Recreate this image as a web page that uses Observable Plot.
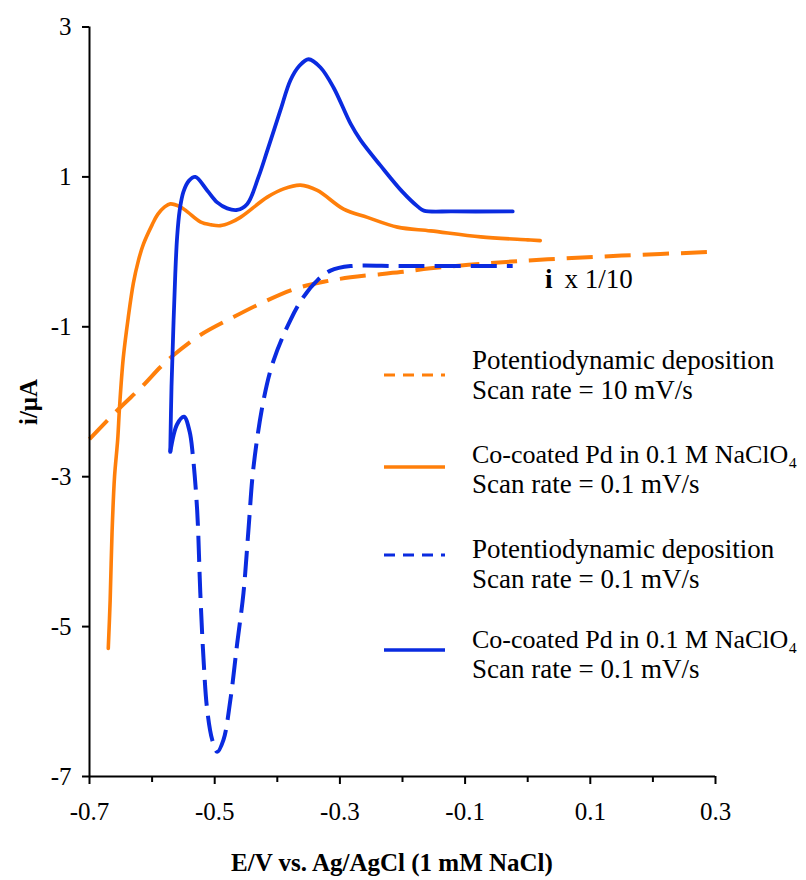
<!DOCTYPE html>
<html><head><meta charset="utf-8">
<script src="https://cdn.jsdelivr.net/npm/d3@7"></script>
<script src="https://cdn.jsdelivr.net/npm/@observablehq/plot@0.6"></script>
<style>
body{margin:0;background:#fff}
#wrap{position:relative;width:806px;height:880px;font-family:"Liberation Serif",serif}
#wrap svg{display:block}
#over{position:absolute;left:0;top:0}
</style></head><body><div id="wrap"></div>
<script>
// ---- data (E in V, i in µA) ----
const orangeDashE = [-0.7,-0.655,-0.614,-0.587,-0.566,-0.523,-0.47,-0.427,-0.374,-0.326,-0.283,-0.203,-0.155,-0.06,0.032,0.15,0.297];
const orangeDashI = [-2.5,-2.11,-1.78,-1.54,-1.38,-1.11,-0.87,-0.69,-0.5,-0.4,-0.34,-0.27,-0.22,-0.15,-0.1,-0.05,0.0];

const orangeSolidE = [-0.67,-0.667,-0.664,-0.66,-0.655,-0.652,-0.646,-0.638,-0.63,-0.622,-0.614,-0.6,-0.591,-0.58,-0.571,-0.555,-0.543,-0.523,-0.505,-0.491,-0.475,-0.459,-0.416,-0.39,-0.363,-0.336,-0.294,-0.256,-0.208,-0.155,-0.075,0.0,0.02];
const orangeSolidI = [-5.29,-4.65,-3.75,-3.0,-2.51,-2.07,-1.41,-0.87,-0.42,-0.12,0.1,0.36,0.5,0.6,0.64,0.6,0.53,0.4,0.36,0.35,0.39,0.46,0.73,0.84,0.89,0.82,0.57,0.46,0.33,0.28,0.2,0.16,0.15];

const blueDashE = [-0.571,-0.56,-0.549,-0.54,-0.535,-0.528,-0.523,-0.518,-0.512,-0.504,-0.496,-0.486,-0.475,-0.464,-0.454,-0.446,-0.438,-0.422,-0.406,-0.379,-0.358,-0.336,-0.315,-0.283,-0.2,-0.024];
const blueDashI = [-2.67,-2.3,-2.2,-2.4,-2.71,-3.45,-4.55,-5.41,-6.11,-6.51,-6.67,-6.51,-5.98,-5.22,-4.55,-3.7,-2.87,-1.98,-1.45,-0.91,-0.6,-0.38,-0.25,-0.19,-0.19,-0.19];

const blueSolidE = [-0.571,-0.569,-0.566,-0.563,-0.56,-0.556,-0.55,-0.541,-0.531,-0.512,-0.496,-0.48,-0.464,-0.448,-0.43,-0.416,-0.395,-0.379,-0.365,-0.35,-0.331,-0.31,-0.283,-0.267,-0.235,-0.2,-0.175,-0.166,-0.12,-0.024];
const blueSolidI = [-2.67,-1.8,-1.0,-0.3,0.2,0.55,0.8,0.95,1.0,0.82,0.66,0.58,0.56,0.64,1.0,1.35,1.89,2.29,2.48,2.57,2.46,2.19,1.71,1.49,1.15,0.8,0.6,0.55,0.54,0.54];

const xMajorTicks = [-0.7,-0.5,-0.3,-0.1,0.1,0.3];
const xMinorTicks = [-0.6,-0.4,-0.2,0.0,0.2];
const yTicks = [3,1,-1,-3,-5,-7];

const legendLabels = [
  ["Potentiodynamic deposition","Scan rate = 10 mV/s"],
  ["Co-coated Pd in 0.1 M NaClO₄","Scan rate = 0.1 mV/s"],
  ["Potentiodynamic deposition","Scan rate = 0.1 mV/s"],
  ["Co-coated Pd in 0.1 M NaClO₄","Scan rate = 0.1 mV/s"]
];
const xTitle = "E/V vs. Ag/AgCl (1 mM NaCl)";
const yTitle = "i/μA";
const annotation = ["i", "x 1/10"];

const ORANGE = "#FF7F0A", BLUE = "#0A2BE0";

const zip = (xs, ys) => xs.map((x, i) => ({x, y: ys[i]}));
const blueDash = "78,10," + Array(80).fill("26,10").join(",");

const plot = Plot.plot({
  width: 806, height: 880,
  marginLeft: 89, marginRight: 91, marginTop: 26.5, marginBottom: 104,
  x: {domain: [-0.7, 0.3]},
  y: {domain: [-7, 3]},
  style: {fontFamily: "Liberation Serif, serif", fontSize: "25px", color: "#000", background: "#fff", overflow: "visible"},
  marks: [
    Plot.line(zip(orangeDashE, orangeDashI), {x: "x", y: "y", stroke: ORANGE, strokeWidth: 4, strokeDasharray: "26,12", strokeLinecap: "butt", curve: "catmull-rom"}),
    Plot.line(zip(orangeSolidE, orangeSolidI), {x: "x", y: "y", stroke: ORANGE, strokeWidth: 3.6, curve: "catmull-rom"}),
    Plot.line(zip(blueDashE, blueDashI), {x: "x", y: "y", stroke: BLUE, strokeWidth: 4, strokeDasharray: blueDash, strokeLinecap: "butt", curve: "catmull-rom"}),
    Plot.line(zip(blueSolidE, blueSolidI), {x: "x", y: "y", stroke: BLUE, strokeWidth: 3.8, curve: "catmull-rom"}),
    Plot.ruleX([-0.7], {stroke: "#000", strokeWidth: 2}),
    Plot.ruleY([-7], {stroke: "#000", strokeWidth: 2}),
    Plot.axisY({ticks: yTicks, tickSize: 7, tickPadding: 11, strokeWidth: 2, tickFormat: d => String(d), label: null, fontSize: 25}),
    Plot.axisX({ticks: xMajorTicks, tickSize: 8, tickPadding: 18, strokeWidth: 2, tickFormat: d => String(d), label: null, fontSize: 25}),
    Plot.axisX({ticks: xMinorTicks, tickSize: 6, strokeWidth: 2, tickFormat: () => "", label: null})
  ]
});
const wrap = document.getElementById("wrap");
wrap.appendChild(plot);

// overlay: titles, legend, annotation
const svg = d3.select(wrap).append("svg").attr("id", "over").attr("width", 806).attr("height", 880)
  .style("font-family", "Liberation Serif, serif").style("pointer-events", "none");

svg.append("text").attr("x", 392).attr("y", 871).attr("text-anchor", "middle")
  .attr("font-size", 25).attr("font-weight", "bold").text(xTitle);
svg.append("text").attr("transform", "translate(37,402) rotate(-90)").attr("text-anchor", "middle")
  .attr("font-size", 25).attr("font-weight", "bold").text(yTitle);

const ann = svg.append("text").attr("x", 545).attr("y", 288).attr("font-size", 27);
ann.append("tspan").attr("font-weight", "bold").text(annotation[0]);
ann.append("tspan").attr("dx", 12).attr("font-size", 27).text(annotation[1]);

const swatchY = [375, 467, 555, 650];
const textY = [369, 463, 558, 648];
const colors = [ORANGE, ORANGE, BLUE, BLUE];
const dashed = [true, false, true, false];
legendLabels.forEach((lines, i) => {
  svg.append("line").attr("x1", 384).attr("x2", 445).attr("y1", swatchY[i]).attr("y2", swatchY[i])
    .attr("stroke", colors[i]).attr("stroke-width", dashed[i] ? 2.8 : 3.4)
    .attr("stroke-dasharray", dashed[i] ? "11,8" : null);
  svg.append("text").attr("x", 472).attr("y", textY[i])
    .attr("font-size", lines[0].includes("₄") ? 26 : 27).text(lines[0]);
  svg.append("text").attr("x", 472).attr("y", textY[i] + 30).attr("font-size", 27).text(lines[1]);
});
</script></body></html>
